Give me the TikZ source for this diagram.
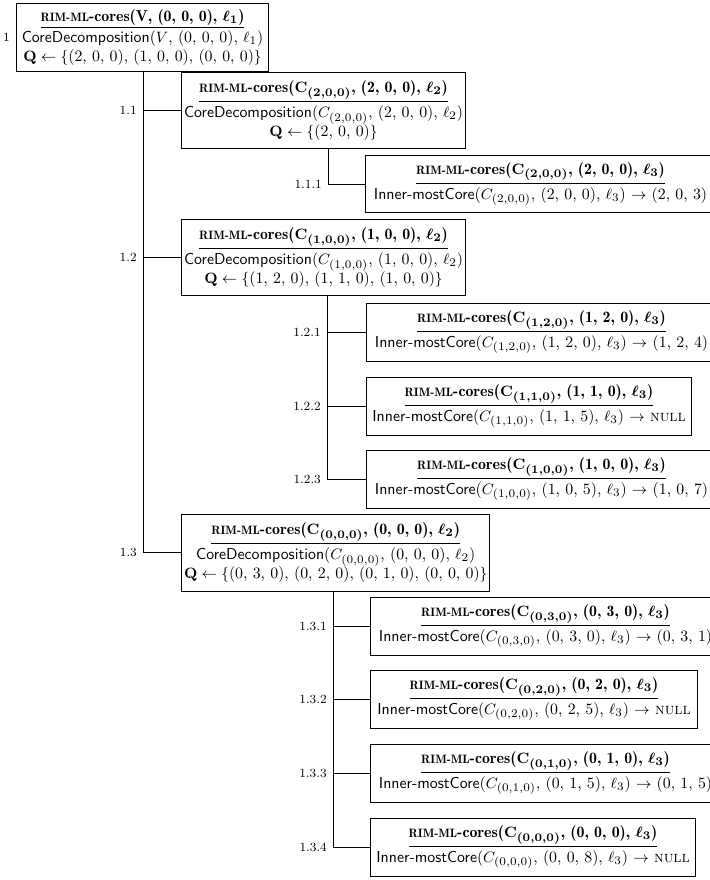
\documentclass[tikz,border=0pt]{standalone}
\usepackage{amsmath,amssymb}
\usepackage{tikz}

% call headers and procedure names
\newcommand{\rimsc}[1]{{\fontsize{7.3}{8}\selectfont #1}}
\newcommand{\rmlc}[1]{\underline{{\fontseries{b}\selectfont\rimsc{RIM-ML}-cores({\boldmath #1})}}}
\newcommand{\cdec}{\textsf{CoreDecomposition}}
\newcommand{\imc}{\textsf{Inner-mostCore}}

\tikzset{
  call/.style={draw, line width=0.6pt, align=center, anchor=north west, inner sep=1.5pt,
    font=\fontsize{9.5}{11.5}\selectfont},
  inner/.style={call, minimum height=45.9pt},
  leaf/.style={call, minimum height=34.5pt},
  wire/.style={line width=0.6pt},
  lbl/.style={left, inner sep=3.5pt, font=\fontsize{7.5}{9}\selectfont}
}

\begin{document}
\begin{tikzpicture}[x=0.6pt,y=-0.6pt]
\useasboundingbox (0,0) rectangle (709,880);

% trunk positions
\coordinate (t0) at (143,0);
\coordinate (t11) at (328,0);
\coordinate (t12) at (327,0);
\coordinate (t13) at (333,0);

% root call
\node[call, minimum width=151.2pt, minimum height=40.8pt] (n1) at (16,3)
  {\rmlc{V, (0, 0, 0), $\ell_1$}\\[1pt] \cdec($V$, (0, 0, 0), $\ell_1$)\\ $\mathbf{Q}\leftarrow\{$(2, 0, 0), (1, 0, 0), (0, 0, 0)$\}$};
\node[lbl] (l1) at (n1.west) {1};

% second level
\node[inner, minimum width=142.8pt] (n11) at (181,72)
  {\rmlc{$\mathrm{C}_{(2,0,0)}$, (2, 0, 0), $\ell_2$}\\[1pt] \cdec($C_{(2,0,0)}$, (2, 0, 0), $\ell_2$)\\ $\mathbf{Q}\leftarrow\{$(2, 0, 0)$\}$};
\node[inner, minimum width=142.8pt] (n12) at (181,219)
  {\rmlc{$\mathrm{C}_{(1,0,0)}$, (1, 0, 0), $\ell_2$}\\[1pt] \cdec($C_{(1,0,0)}$, (1, 0, 0), $\ell_2$)\\ $\mathbf{Q}\leftarrow\{$(1, 2, 0), (1, 1, 0), (1, 0, 0)$\}$};
\node[inner, minimum width=148.2pt] (n13) at (181,514)
  {\rmlc{$\mathrm{C}_{(0,0,0)}$, (0, 0, 0), $\ell_2$}\\[1pt] \cdec($C_{(0,0,0)}$, (0, 0, 0), $\ell_2$)\\ $\mathbf{Q}\leftarrow\{$(0, 3, 0), (0, 2, 0), (0, 1, 0), (0, 0, 0)$\}$};

% third level
\node[leaf, minimum width=210pt] (n111) at (365,155)
  {\rmlc{$\mathrm{C}_{(2,0,0)}$, (2, 0, 0), $\ell_3$}\\[1pt] \imc($C_{(2,0,0)}$, (2, 0, 0), $\ell_3$) $\rightarrow$ (2, 0, 3)};
\node[leaf, minimum width=210pt] (n121) at (366,303)
  {\rmlc{$\mathrm{C}_{(1,2,0)}$, (1, 2, 0), $\ell_3$}\\[1pt] \imc($C_{(1,2,0)}$, (1, 2, 0), $\ell_3$) $\rightarrow$ (1, 2, 4)};
\node[leaf, minimum width=195pt] (n122) at (366,377)
  {\rmlc{$\mathrm{C}_{(1,1,0)}$, (1, 1, 0), $\ell_3$}\\[1pt] \imc($C_{(1,1,0)}$, (1, 1, 5), $\ell_3$) $\rightarrow$ \textsc{null}};
\node[leaf, minimum width=210pt] (n123) at (366,450)
  {\rmlc{$\mathrm{C}_{(1,0,0)}$, (1, 0, 0), $\ell_3$}\\[1pt] \imc($C_{(1,0,0)}$, (1, 0, 5), $\ell_3$) $\rightarrow$ (1, 0, 7)};
\node[leaf, minimum width=210pt] (n131) at (370,597)
  {\rmlc{$\mathrm{C}_{(0,3,0)}$, (0, 3, 0), $\ell_3$}\\[1pt] \imc($C_{(0,3,0)}$, (0, 3, 0), $\ell_3$) $\rightarrow$ (0, 3, 1)};
\node[leaf, minimum width=196.2pt] (n132) at (370,670)
  {\rmlc{$\mathrm{C}_{(0,2,0)}$, (0, 2, 0), $\ell_3$}\\[1pt] \imc($C_{(0,2,0)}$, (0, 2, 5), $\ell_3$) $\rightarrow$ \textsc{null}};
\node[leaf, minimum width=210pt] (n133) at (370,744)
  {\rmlc{$\mathrm{C}_{(0,1,0)}$, (0, 1, 0), $\ell_3$}\\[1pt] \imc($C_{(0,1,0)}$, (0, 1, 5), $\ell_3$) $\rightarrow$ (0, 1, 5)};
\node[leaf, minimum width=195pt] (n134) at (370,818)
  {\rmlc{$\mathrm{C}_{(0,0,0)}$, (0, 0, 0), $\ell_3$}\\[1pt] \imc($C_{(0,0,0)}$, (0, 0, 8), $\ell_3$) $\rightarrow$ \textsc{null}};

% branches from the root
\draw[wire] (t0 |- n1.south) |- (n13.west);
\draw[wire] (t0 |- n11.west) node[lbl] (l11) {1.1} -- (n11.west);
\draw[wire] (t0 |- n12.west) node[lbl] (l12) {1.2} -- (n12.west);
\node[lbl] (l13) at (t0 |- n13.west) {1.3};

% branches of 1.1
\draw[wire] (t11 |- n11.south) |- (n111.west);
\node[lbl] (l111) at (t11 |- n111.west) {1.1.1};

% branches of 1.2
\draw[wire] (t12 |- n12.south) |- (n123.west);
\draw[wire] (t12 |- n121.west) node[lbl] (l121) {1.2.1} -- (n121.west);
\draw[wire] (t12 |- n122.west) node[lbl] (l122) {1.2.2} -- (n122.west);
\node[lbl] (l123) at (t12 |- n123.west) {1.2.3};

% branches of 1.3
\draw[wire] (t13 |- n13.south) |- (n134.west);
\foreach \k in {1,2,3}
  \draw[wire] (t13 |- n13\k.west) node[lbl] (l13\k) {1.3.\k} -- (n13\k.west);
\node[lbl] (l134) at (t13 |- n134.west) {1.3.4};
\end{tikzpicture}
\end{document}
